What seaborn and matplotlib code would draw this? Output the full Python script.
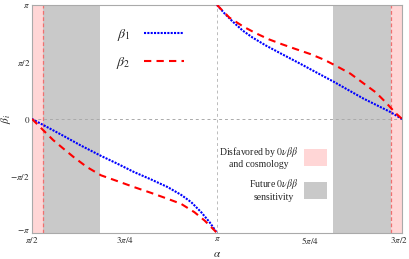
import numpy as np
import pandas as pd
import seaborn as sns
import matplotlib.pyplot as plt
import matplotlib.transforms as mtransforms
from matplotlib.patches import Patch
from matplotlib.lines import Line2D

# alpha and beta values in units of pi
alpha_b1_left = [0.5, 0.5391, 0.5845, 0.63, 0.6864, 0.73, 0.7755, 0.8209, 0.8664, 0.9027, 0.93, 0.9573, 0.98, 1.0]
beta1_left = [0.0, -0.0676, -0.147, -0.229, -0.3235, -0.391, -0.465, -0.529, -0.597, -0.665, -0.729, -0.818, -0.906, -1.0]
alpha_b1_right = [1.0, 1.0199, 1.0424, 1.0695, 1.0966, 1.1327, 1.1778, 1.2229, 1.268, 1.315, 1.3944, 1.4666, 1.5]
beta1_right = [1.0, 0.927, 0.854, 0.775, 0.713, 0.643, 0.565, 0.488, 0.409, 0.327, 0.181, 0.064, 0.0]

alpha_b2_left = [0.5, 0.5118, 0.53, 0.5573, 0.5845, 0.6118, 0.6482, 0.6864, 0.73, 0.7755, 0.8209, 0.8664,
                 0.9027, 0.9391, 0.9664, 0.9936, 1.0]
beta2_left = [0.0, -0.038, -0.097, -0.185, -0.259, -0.332, -0.421, -0.494, -0.544, -0.597, -0.647, -0.7,
              -0.744, -0.818, -0.891, -0.979, -1.0]
alpha_b2_right = [1.0, 1.0334, 1.0713, 1.1038, 1.1399, 1.176, 1.2121, 1.2518, 1.2906, 1.324, 1.3601, 1.3944,
                  1.4287, 1.4558, 1.4829, 1.5]
beta2_right = [1.0, 0.889, 0.81, 0.754, 0.699, 0.655, 0.614, 0.57, 0.518, 0.462, 0.398, 0.316,
               0.234, 0.146, 0.05, 0.0]

# excluded bands (units of pi)
pink_bands = [(0.5, 0.5297), (1.4703, 1.5)]
gray_bands = [(0.5297, 0.6838), (1.3135, 1.4703)]

xtick_vals = [0.5, 0.75, 1.0, 1.25, 1.5]
xtick_labels = [r'$\pi/2$', r'$3\pi/4$', r'$\pi$', r'$5\pi/4$', r'$3\pi/2$']
ytick_vals = [-1.0, -0.5, 0.0, 0.5, 1.0]
ytick_labels = [r'$-\pi$', r'$-\pi/2$', r'$0$', r'$\pi/2$', r'$\pi$']

sns.set_style('white')
plt.rcParams['font.family'] = ['Liberation Serif', 'DejaVu Serif']
plt.rcParams['mathtext.fontset'] = 'stix'

pink = '#ffd6d6'
gray = '#c9c9c9'
blue_ls = (0, (1, 0.6))
red_ls = (0, (3.5, 2.5))

fig = plt.figure(figsize=(4.09, 2.59), dpi=100)
ax = fig.add_axes([0.0782, 0.1004, 0.905, 0.8803])

for lo, hi in pink_bands:
    ax.axvspan(lo * np.pi, hi * np.pi, color=pink, lw=0, zorder=0)
for lo, hi in gray_bands:
    ax.axvspan(lo * np.pi, hi * np.pi, color=gray, lw=0, zorder=0)
ax.axvline(pink_bands[0][1] * np.pi, color='#f07070', ls=(0, (3, 2)), lw=0.9, zorder=1)
ax.axvline(pink_bands[1][0] * np.pi, color='#f07070', ls=(0, (3, 2)), lw=0.9, zorder=1)
ax.axhline(0, color='#aaaaaa', ls=(0, (3, 3)), lw=0.7, zorder=1)
ax.axvline(np.pi, color='#bbbbbb', ls=(0, (3, 3)), lw=0.7, zorder=1)

branches = [
    (alpha_b1_left, beta1_left, 'blue', blue_ls),
    (alpha_b1_right, beta1_right, 'blue', blue_ls),
    (alpha_b2_left, beta2_left, 'red', red_ls),
    (alpha_b2_right, beta2_right, 'red', red_ls),
]
for a, b, c, ls in branches:
    df = pd.DataFrame({'alpha': np.array(a) * np.pi, 'beta': np.array(b) * np.pi})
    sns.lineplot(data=df, x='alpha', y='beta', ax=ax, color=c, lw=1.5,
                 linestyle=ls, sort=False, estimator=None, zorder=3)

ax.set_xlim(0.5 * np.pi, 1.5 * np.pi)
ax.set_ylim(-np.pi, np.pi)
ax.set_xticks(np.array(xtick_vals) * np.pi)
ax.set_xticklabels(xtick_labels)
ax.set_yticks(np.array(ytick_vals) * np.pi)
ax.set_yticklabels(ytick_labels)
ax.tick_params(direction='in', length=2.5, width=0.6, color='#999999',
               labelsize=6.5, pad=1.5)
# keep the last x label inside the figure, lift -pi off the pi/2 label
last = ax.get_xticklabels()[-1]
last.set_ha('right')
last.set_transform(last.get_transform() + mtransforms.ScaledTranslation(6 / 100, 0, fig.dpi_scale_trans))
low = ax.get_yticklabels()[0]
low.set_transform(low.get_transform() + mtransforms.ScaledTranslation(0, 2.5 / 100, fig.dpi_scale_trans))
for s in ax.spines.values():
    s.set_color('#aaaaaa')
    s.set_linewidth(0.8)
ax.set_xlabel(r'$\alpha$', fontsize=8)
ax.set_ylabel(r'$\beta_i$', fontsize=8)
ax.xaxis.set_label_coords(0.5, -0.075)
ax.yaxis.set_label_coords(-0.05, 0.5)

h1 = [Line2D([], [], color='blue', lw=1.5, ls=blue_ls),
      Line2D([], [], color='red', lw=1.5, ls=red_ls)]
leg1 = ax.legend(h1, [r'$\beta_1$', r'$\beta_2$'], loc='upper left',
                 bbox_to_anchor=(0.193, 0.96), frameon=False, markerfirst=False,
                 fontsize=10, handlelength=2.9, labelspacing=0.9, handletextpad=1.0)
ax.add_artist(leg1)

h2 = [Patch(facecolor=pink, edgecolor='none'), Patch(facecolor=gray, edgecolor='none')]
leg2 = ax.legend(h2, ['Disfavored by $0\\nu\\beta\\beta$\nand cosmology',
                      'Future $0\\nu\\beta\\beta$\nsensitivity'],
                 loc='lower right', bbox_to_anchor=(0.816, 0.107), frameon=False,
                 markerfirst=False, fontsize=7, handlelength=2.4, handleheight=2.3,
                 labelspacing=0.85, handletextpad=0.6, borderpad=0.2)
for t in leg2.get_texts():
    t.set_multialignment('center')

fig.savefig('out.png', dpi=100)
